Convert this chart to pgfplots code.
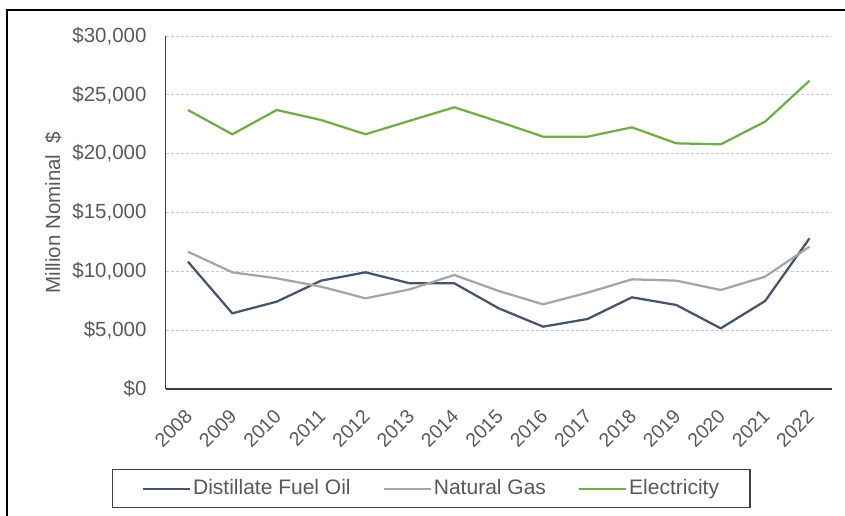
\documentclass[border=0pt]{standalone}
\usepackage{pgfplots}
\pgfplotsset{compat=1.18}
\usepackage{fontspec}
\setmainfont{Liberation Sans}
\definecolor{txt}{HTML}{595959}
\definecolor{axln}{HTML}{404040}
\definecolor{gridc}{HTML}{C8C8C8}
\definecolor{oilc}{HTML}{44546A}
\definecolor{gasc}{HTML}{A5A5A5}
\definecolor{elec}{HTML}{70AD47}
\begin{document}
\fontsize{20.5bp}{24bp}\selectfont
\begin{tikzpicture}[x=1bp,y=1bp]
\path[use as bounding box] (0,0) rectangle (845,516);
\draw[line width=1.5bp, black] (7,0) -- (7,506) -- (846,506);
\begin{axis}[
  at={(165.7bp,127bp)}, anchor=south west,
  width=666bp, height=353bp, scale only axis,
  xmin=-0.5, xmax=14.5, ymin=0, ymax=30000,
  scaled y ticks=false,
  axis x line*=bottom, axis y line*=left,
  axis line style={axln, line width=1.5bp, -},
  major tick length=0pt,
  xtick={0,...,14},
  xticklabels={2008,2009,2010,2011,2012,2013,2014,2015,2016,2017,2018,2019,2020,2021,2022},
  ytick={0,5000,10000,15000,20000,25000,30000},
  yticklabels={{\$0},{\$5,000},{\$10,000},{\$15,000},{\$20,000},{\$25,000},{\$30,000}},
  ymajorgrids,
  grid style={gridc, line width=0.75bp, dash pattern=on 3bp off 2bp},
  tick label style={text=txt},
  yticklabel style={inner sep=0pt, xshift=-19bp, anchor=east},
  xticklabel style={font=\fontsize{19.5bp}{22bp}\selectfont, xshift=1bp, yshift=-24bp, rotate=45, anchor=east, inner sep=0pt},
  ylabel={Million Nominal \ \$},
  ylabel style={at={(axis description cs:-0.169,0.5)}, anchor=center, text=txt},
  legend columns=3,
  legend style={at={(axis description cs:-0.0802,-0.2266)}, anchor=north west,
    draw=axln, line width=1.2bp, text=txt, inner xsep=29bp, inner ysep=8bp,
    font=\fontsize{21bp}{24bp}\selectfont,
    /tikz/every even column/.append style={column sep=30bp}},
  legend image code/.code={\draw[#1] (0bp,0bp) -- (47bp,0bp);},
  legend cell align=left,
]
\addplot[oilc, line width=2.25bp] coordinates {(0,10822) (1,6431) (2,7422) (3,9207) (4,9915) (5,8980) (6,8980) (7,6856) (8,5297) (9,5949) (10,7790) (11,7139) (12,5156) (13,7479) (14,12805)};
\addlegendentry{Distillate Fuel Oil}
\addplot[gasc, line width=2.25bp] coordinates {(0,11671) (1,9915) (2,9405) (3,8697) (4,7705) (5,8470) (6,9688) (7,8329) (8,7195) (9,8187) (10,9320) (11,9207) (12,8414) (13,9547) (14,12096)};
\addlegendentry{Natural Gas}
\addplot[elec, line width=2.25bp] coordinates {(0,23711) (1,21646) (2,23711) (3,22861) (4,21646) (5,22800) (6,23940) (7,22720) (8,21445) (9,21445) (10,22238) (11,20878) (12,20793) (13,22720) (14,26204)};
\addlegendentry{Electricity}
\end{axis}
\end{tikzpicture}
\end{document}
